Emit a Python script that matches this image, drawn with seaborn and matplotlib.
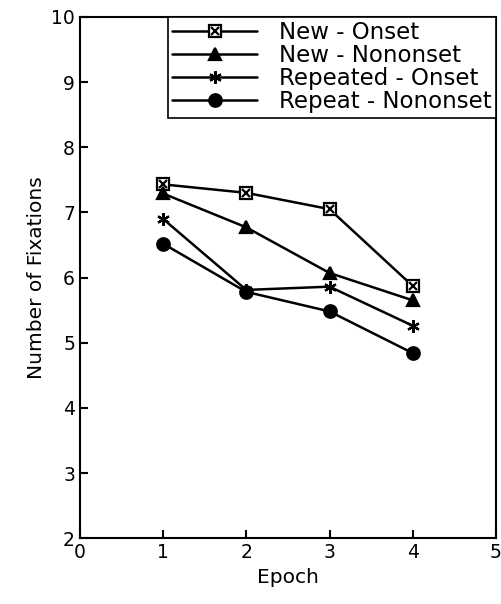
import seaborn as sns
import matplotlib.pyplot as plt
from matplotlib.legend_handler import HandlerTuple
from matplotlib.lines import Line2D

# data
epochs = [1, 2, 3, 4]
new_onset = [7.43, 7.30, 7.05, 5.87]
new_nononset = [7.29, 6.77, 6.07, 5.65]
rep_onset = [6.90, 5.81, 5.86, 5.26]
rep_nononset = [6.52, 5.78, 5.48, 4.84]
labels = ["New - Onset", "New - Nononset", "Repeated - Onset", "Repeat - Nononset"]
series = [new_onset, new_nononset, rep_onset, rep_nononset]
markers = ["s", "^", (6, 2, 0), "o"]

sns.set_style("ticks")
plt.rcParams['font.family'] = ['DejaVu Sans']

fig = plt.figure(figsize=(5.02, 6.04), dpi=100)
ax = fig.add_axes([0.159, 0.109, 0.829, 0.863])

handles = []
for lab, vals, m in zip(labels, series, markers):
    face = "white" if m == "s" else "black"
    sns.lineplot(x=epochs, y=vals, marker=m, color="black", linewidth=1.8,
                 markersize=9, markerfacecolor=face, markeredgecolor="black",
                 markeredgewidth=1.6, ax=ax)
    handles.append(Line2D([], [], color="black", lw=1.8, marker=m, markersize=9,
                          markerfacecolor=face, markeredgewidth=1.6))

# square markers of New - Onset are open with a cross inside
ax.plot(epochs, new_onset, linestyle="none", marker="x", color="black",
        markersize=6, markeredgewidth=1.6)
xx = Line2D([], [], color="black", lw=0, marker="x", markersize=6, markeredgewidth=1.6)
handles[0] = (handles[0], xx)

leg = ax.legend(handles, labels, loc="upper right", fontsize=16.5,
                handler_map={tuple: HandlerTuple(ndivide=1, pad=0)},
                handlelength=3.7, frameon=True, fancybox=False,
                edgecolor="black", borderpad=0.2, labelspacing=0.0,
                borderaxespad=0.0, handletextpad=0.95)
leg.get_frame().set_linewidth(1.2)
leg.get_frame().set_alpha(1)
for t in leg.get_texts():
    t.set_color("black")

ax.set_xlim(0, 5)
ax.set_ylim(2, 10)
ax.set_xticks(range(0, 6))
ax.set_yticks(range(2, 11))
ax.tick_params(direction="in", length=6, width=1.5, labelsize=13.5,
               colors="black", labelcolor="black")
for s in ax.spines.values():
    s.set_linewidth(1.5)
    s.set_color("black")
ax.set_xlabel("Epoch", fontsize=14.5, color="black")
ax.set_ylabel("Number of Fixations", fontsize=14.5, color="black")

fig.savefig("out.png", dpi=100)
